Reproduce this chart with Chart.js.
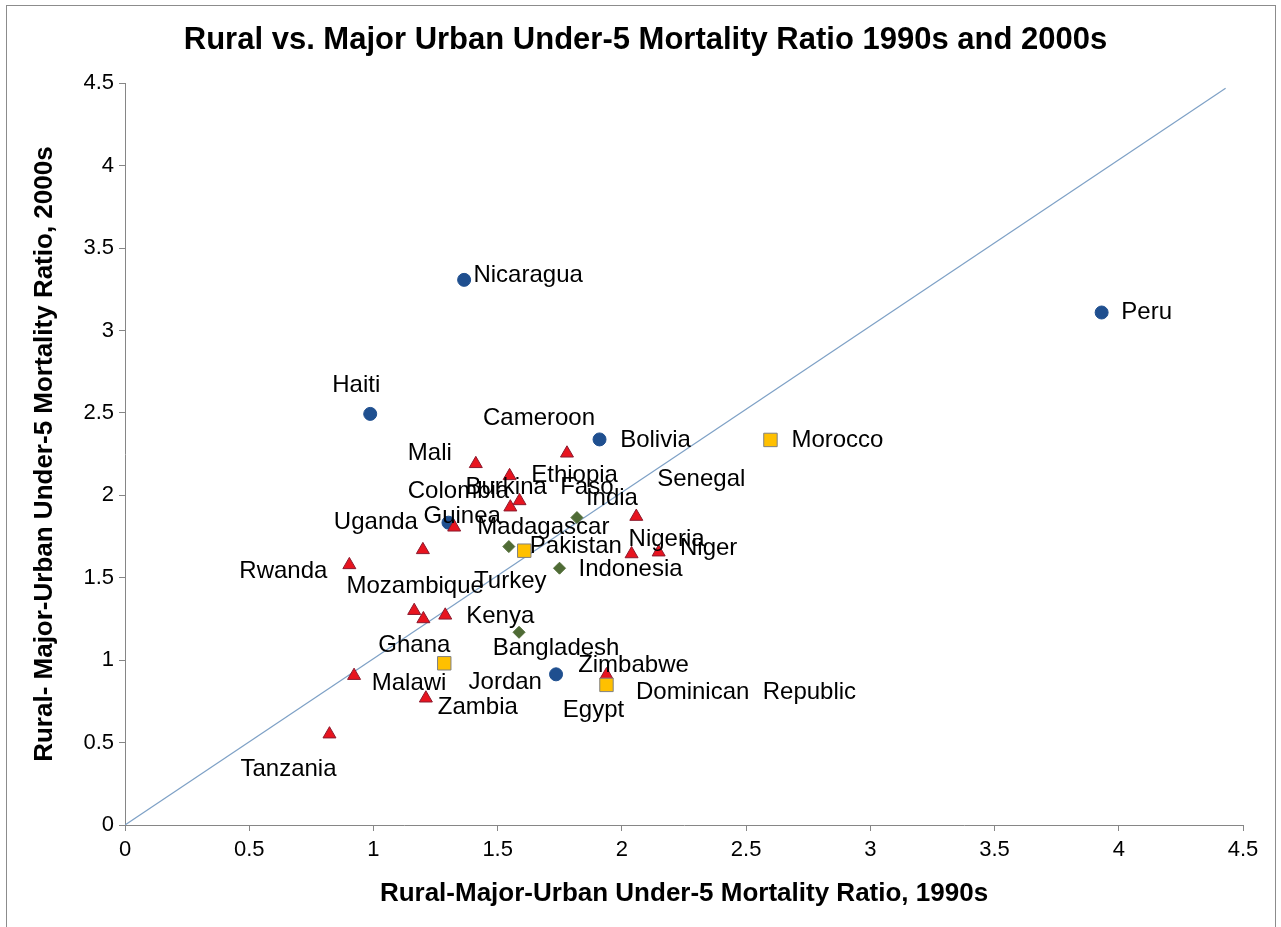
<!DOCTYPE html>
<html><head><meta charset="utf-8">
<script src="https://cdn.jsdelivr.net/npm/chart.js@4.4.0/dist/chart.umd.min.js"></script>
<style>
html,body{margin:0;padding:0;background:#fff;}
#wrap{position:relative;width:1281px;height:927px;overflow:hidden;}
canvas{display:block;}
#frame{position:absolute;left:6px;top:5px;width:1270px;height:940px;border:1px solid #8c8c8c;box-sizing:border-box;pointer-events:none;}
</style></head>
<body><div id="wrap"><canvas id="c" width="1281" height="927"></canvas><div id="frame"></div></div>
<script>
// ---- Data (Rural/Major-Urban under-5 mortality ratio: x = 1990s, y = 2000s) ----
const latinNames = ["Nicaragua", "Haiti", "Bolivia", "Peru", "Colombia", "Dominican  Republic"];
const latinX = [1.365, 0.987, 1.910, 3.931, 1.302, 1.735];
const latinY = [3.307, 2.494, 2.339, 3.109, 1.834, 0.914];

const africaNames = ["Cameroon", "Mali", "Ethiopia", "Burkina  Faso", "Madagascar", "Guinea", "Senegal", "Uganda", "Nigeria", "Niger", "Rwanda", "Mozambique", "Ghana", "Kenya", "Malawi", "Zimbabwe", "Zambia", "Tanzania"];
const africaX = [1.779, 1.412, 1.548, 1.588, 1.551, 1.325, 2.058, 1.199, 2.039, 2.148, 0.903, 1.164, 1.201, 1.289, 0.922, 1.938, 1.211, 0.823];
const africaY = [2.255, 2.191, 2.118, 1.966, 1.928, 1.806, 1.871, 1.669, 1.644, 1.655, 1.578, 1.300, 1.250, 1.272, 0.906, 0.910, 0.769, 0.551];

const asiaNames = ["India", "Pakistan", "Indonesia", "Bangladesh"];
const asiaX = [1.819, 1.545, 1.749, 1.586];
const asiaY = [1.865, 1.689, 1.558, 1.169];

const menaNames = ["Morocco", "Turkey", "Jordan", "Egypt"];
const menaX = [2.598, 1.607, 1.285, 1.938];
const menaY = [2.336, 1.664, 0.981, 0.850];

const refLineX = [0, 4.43];
const refLineY = [0, 4.47];

const xTicks = [0, 0.5, 1, 1.5, 2, 2.5, 3, 3.5, 4, 4.5];
const yTicks = [0, 0.5, 1, 1.5, 2, 2.5, 3, 3.5, 4, 4.5];

// ---- Label placement (pixel offsets from each marker, styling only) ----
const latinLabelOffsets = [[64,-4],[-14,-29],[56,1],[45,0],[10,-31],[190,18]];
const africaLabelOffsets = [[-28,-35],[-46,-10],[65,0],[20,-14],[33,20],[8,-11],[65,-37],[-47,-27],[35,-15],[50,-4],[-66,6],[1,-24],[-9,26],[55,1],[55,8],[27,-10],[52,9],[-41,35]];
const asiaLabelOffsets = [[35,-19],[67,0],[71,1],[37,16]];
const menaLabelOffsets = [[67,0],[-14,31],[61,19],[-13,25]];

const pts = (xs, ys) => xs.map((x, i) => ({x: x, y: ys[i]}));

const labelPlugin = {
  id: 'pointNameLabels',
  afterDatasetsDraw(chart) {
    const ctx = chart.ctx;
    ctx.save();
    ctx.font = '24px "Liberation Sans", Arial, sans-serif';
    ctx.fillStyle = '#000';
    ctx.textAlign = 'center';
    ctx.textBaseline = 'middle';
    chart.data.datasets.forEach((ds, i) => {
      if (!ds.names) return;
      const meta = chart.getDatasetMeta(i);
      meta.data.forEach((el, j) => {
        const o = ds.labelOffsets[j];
        ctx.fillText(ds.names[j], el.x + o[0], el.y + o[1]);
      });
    });
    ctx.restore();
  }
};

const axisGray = '#868686';
const FONT = '"Liberation Sans", Arial, sans-serif';

new Chart(document.getElementById('c'), {
  type: 'scatter',
  data: {
    datasets: [
      { label: 'Reference', type: 'line', data: pts(refLineX, refLineY), borderColor: '#7ea1c6', borderWidth: 1.2, pointRadius: 0, fill: false, order: 5 },
      { label: 'Latin America & Caribbean', data: pts(latinX, latinY), names: latinNames, labelOffsets: latinLabelOffsets,
        pointStyle: 'circle', pointRadius: 6.5, backgroundColor: '#1f4f8f', borderColor: '#1f4f8f', borderWidth: 1, order: 4 },
      { label: 'Sub-Saharan Africa', data: pts(africaX, africaY), names: africaNames, labelOffsets: africaLabelOffsets,
        pointStyle: 'triangle', pointRadius: 7.5, backgroundColor: '#e8141f', borderColor: '#8b1a2e', borderWidth: 1, order: 3 },
      { label: 'Asia', data: pts(asiaX, asiaY), names: asiaNames, labelOffsets: asiaLabelOffsets,
        pointStyle: 'rectRot', pointRadius: 6, backgroundColor: '#4f6b35', borderColor: '#4f6b35', borderWidth: 1, order: 2 },
      { label: 'Middle East & North Africa', data: pts(menaX, menaY), names: menaNames, labelOffsets: menaLabelOffsets,
        pointStyle: 'rect', pointRadius: 9.5, backgroundColor: '#ffc000', borderColor: '#808080', borderWidth: 1, order: 1 }
    ]
  },
  options: {
    responsive: false,
    animation: false,
    devicePixelRatio: 1,
    layout: { padding: { left: 48, right: 38, top: 0, bottom: 0 } },
    plugins: {
      legend: { display: false },
      tooltip: { enabled: false },
      title: {
        display: true,
        text: 'Rural vs. Major Urban Under-5 Mortality Ratio 1990s and 2000s',
        color: '#000',
        font: { family: FONT, size: 31, weight: 'bold', lineHeight: 1.2 },
        padding: { top: 22, bottom: 24 }
      }
    },
    scales: {
      x: {
        type: 'linear', min: 0, max: 4.5,
        afterBuildTicks: (s) => { s.ticks = xTicks.map(v => ({value: v})); },
        afterFit: (s) => { s.height = 102; },
        grid: { display: true, drawOnChartArea: false, drawTicks: true, tickLength: 6, color: axisGray },
        border: { display: true, color: axisGray, width: 1 },
        ticks: { color: '#000', font: { family: FONT, size: 22 }, padding: 6, callback: (v) => String(v) },
        title: { display: true, text: 'Rural-Major-Urban Under-5 Mortality Ratio, 1990s', color: '#000',
                 font: { family: FONT, size: 26, weight: 'bold', lineHeight: 1.2 }, padding: { top: 0, bottom: 18 } }
      },
      y: {
        type: 'linear', min: 0, max: 4.5,
        afterBuildTicks: (s) => { s.ticks = yTicks.map(v => ({value: v})); },
        afterFit: (s) => { s.width = 77; },
        grid: { display: true, drawOnChartArea: false, drawTicks: true, tickLength: 6, color: axisGray },
        border: { display: true, color: axisGray, width: 1 },
        ticks: { color: '#000', font: { family: FONT, size: 22 }, padding: 5, callback: (v) => String(v) },
        title: { display: true, text: 'Rural- Major-Urban Under-5 Mortality Ratio, 2000s', color: '#000',
                 font: { family: FONT, size: 26, weight: 'bold', lineHeight: 1.2 }, padding: { top: -19, bottom: 0 } }
      }
    }
  },
  plugins: [labelPlugin]
});
</script>
</body></html>
